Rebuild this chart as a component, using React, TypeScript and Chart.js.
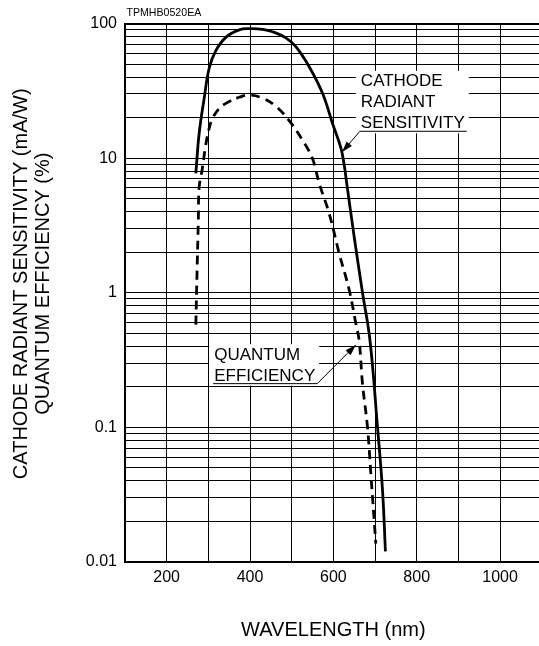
import React, { useEffect, useRef } from 'react';
import { Chart, registerables } from 'chart.js';

Chart.register(...registerables);

// ---- data ----
const sensitivityWavelength = [270, 278, 290, 302, 318, 342, 374, 398, 430, 454, 486, 510, 542, 574, 598, 618, 626, 631, 650, 670, 688, 706, 718, 725];
const cathodeRadiantSensitivity = [7.7, 15.3, 27.8, 46.5, 62.8, 78.9, 89.6, 91.5, 90.5, 86.9, 78.3, 67.2, 47.7, 30.3, 18.1, 11.9, 8.9, 6.9, 2.6, 1.0, 0.44, 0.1, 0.034, 0.012];

const qeWavelength = [270, 273, 276, 278, 285, 293, 301, 310, 326, 342, 374, 398, 430, 462, 494, 526, 550, 566, 590, 614, 638, 654, 662, 670, 682, 690, 702];
const quantumEfficiency = [0.58, 1.47, 3.47, 6.1, 8.15, 12.1, 16.2, 19.7, 23.4, 25.5, 28.3, 29.4, 27.9, 24.3, 19.0, 13.6, 9.9, 6.5, 3.88, 1.96, 1.05, 0.59, 0.44, 0.21, 0.1, 0.045, 0.0137];

const xTickLabels = [200, 400, 600, 800, 1000];
const yDecades = [0.01, 0.1, 1, 10];
const yMultipliers = [1, 2, 3, 4, 5, 6, 7, 8, 9];
const yTickLabels = ['0.01', '0.1', '1', '10', '100'];

const figureCode = 'TPMHB0520EA';
const xTitle = 'WAVELENGTH (nm)';
const yTitle = ['CATHODE RADIANT SENSITIVITY (mA/W)', 'QUANTUM EFFICIENCY (%)'];

const callouts = [
  { lines: ['CATHODE', 'RADIANT', 'SENSITIVITY'], at: [666, 36.9], tip: [621, 11.1], leaderFrom: 'left' },
  { lines: ['QUANTUM', 'EFFICIENCY'], at: [314, 0.344], tip: [654, 0.41], leaderFrom: 'right' },
];

const FONT = '"Liberation Sans", Arial, Helvetica, sans-serif';
const yTickValues = [...yDecades.flatMap((d) => yMultipliers.map((m) => d * m)), 100];

const calloutPlugin = {
  id: 'callouts',
  afterDatasetsDraw(chart: any) {
    const { ctx, chartArea } = chart;
    const xs = chart.scales.x;
    const ys = chart.scales.y;
    const gap = 21;
    ctx.save();
    ctx.font = `17px ${FONT}`;
    ctx.textBaseline = 'middle';
    ctx.textAlign = 'left';
    for (const c of callouts) {
      const tx = xs.getPixelForValue(c.at[0]);
      const ty = ys.getPixelForValue(c.at[1]);
      const widths = c.lines.map((l) => ctx.measureText(l).width);
      const maxW = Math.max(...widths);
      const lastW = widths[widths.length - 1];
      const lastY = ty + gap * (c.lines.length - 1);
      const ulY = lastY + 7.5;
      ctx.fillStyle = '#fff';
      ctx.fillRect(tx - 5, ty - 11, maxW + 9, ulY + 2 - (ty - 11));
      ctx.fillStyle = '#000';
      c.lines.forEach((l, i) => ctx.fillText(l, tx, ty + gap * i));
      const ux0 = tx - 1;
      const ux1 = tx + lastW + 2;
      const px = xs.getPixelForValue(c.tip[0]);
      const py = ys.getPixelForValue(c.tip[1]);
      const sx = c.leaderFrom === 'left' ? ux0 : ux1;
      ctx.strokeStyle = '#000';
      ctx.lineWidth = 1;
      ctx.beginPath();
      ctx.moveTo(ux0, ulY);
      ctx.lineTo(ux1, ulY);
      ctx.moveTo(sx, ulY);
      ctx.lineTo(px, py);
      ctx.stroke();
      const ang = Math.atan2(py - ulY, px - sx);
      const L = 11;
      const W = 3.5;
      ctx.beginPath();
      ctx.moveTo(px, py);
      ctx.lineTo(px - L * Math.cos(ang) + W * Math.sin(ang), py - L * Math.sin(ang) - W * Math.cos(ang));
      ctx.lineTo(px - L * Math.cos(ang) - W * Math.sin(ang), py - L * Math.sin(ang) + W * Math.cos(ang));
      ctx.closePath();
      ctx.fill();
    }
    ctx.font = `10.6px ${FONT}`;
    ctx.textBaseline = 'middle';
    ctx.fillText(figureCode, chartArea.left + 1.5, chartArea.top - 10.8);

    // y-axis title (two rotated lines)
    ctx.font = `20px ${FONT}`;
    ctx.textAlign = 'center';
    ctx.textBaseline = 'middle';
    const cy = (chartArea.top + chartArea.bottom) / 2 - 9;
    yTitle.forEach((t, i) => {
      ctx.save();
      ctx.translate(ys.left + 21 + i * 22.5, cy);
      ctx.rotate(-Math.PI / 2);
      ctx.fillText(t, 0, 0);
      ctx.restore();
    });
    ctx.restore();
  },
};

export default function App() {
  const ref = useRef<HTMLCanvasElement | null>(null);
  useEffect(() => {
    if (!ref.current) return;
    const chart = new Chart(ref.current, {
      type: 'line',
      data: {
        datasets: [
          {
            label: 'Cathode radiant sensitivity',
            data: sensitivityWavelength.map((w, i) => ({ x: w, y: cathodeRadiantSensitivity[i] })),
            borderColor: '#000',
            borderWidth: 2.8,
            pointRadius: 0,
            fill: false,
            tension: 0.4,
          },
          {
            label: 'Quantum efficiency',
            data: qeWavelength.map((w, i) => ({ x: w, y: quantumEfficiency[i] })),
            borderColor: '#000',
            borderWidth: 2.8,
            borderDash: [9, 6],
            pointRadius: 0,
            fill: false,
            tension: 0.4,
          },
        ],
      },
      options: {
        responsive: false,
        animation: false,
        devicePixelRatio: 1,
        events: [],
        layout: { padding: { left: 0, top: 23.5, right: 18.3, bottom: 0 } },
        plugins: { legend: { display: false }, tooltip: { enabled: false } },
        scales: {
          x: {
            type: 'linear',
            min: 100,
            max: 1100,
            afterFit: (s: any) => {
              s.height = 84;
            },
            border: { display: true, color: '#000', width: 2 },
            grid: { color: '#000', lineWidth: 1, drawTicks: false },
            ticks: {
              stepSize: 100,
              autoSkip: false,
              maxRotation: 0,
              padding: 6,
              color: '#000',
              font: { family: FONT, size: 16 },
              callback: (v: any) => (xTickLabels.includes(Number(v)) ? String(v) : ''),
            },
            title: {
              display: true,
              text: xTitle,
              color: '#000',
              font: { family: FONT, size: 20, lineHeight: 1.2 },
              padding: { top: 0, bottom: 4 },
            },
          },
          y: {
            type: 'logarithmic',
            min: 0.01,
            max: 100,
            afterFit: (s: any) => {
              s.width = 125;
            },
            afterBuildTicks: (s: any) => {
              s.ticks = yTickValues.map((v) => ({ value: v }));
            },
            border: { display: true, color: '#000', width: 2 },
            grid: {
              color: '#000',
              lineWidth: (c: any) => (c.tick && c.tick.value === 100 ? 2 : 1),
              drawTicks: false,
            },
            ticks: {
              autoSkip: false,
              padding: 8,
              color: '#000',
              font: { family: FONT, size: 16 },
              callback: (_v: any, i: number) => (i % 9 === 0 ? yTickLabels[i / 9] : ''),
            },
            title: { display: false },
          },
        },
      },
      plugins: [calloutPlugin],
    } as any);
    return () => chart.destroy();
  }, []);
  return (
    <div style={{ position: 'fixed', left: 0, top: 0, width: 539, height: 646, overflow: 'hidden', background: '#fff' }}>
      <canvas ref={ref} width={560} height={646} style={{ display: 'block' }} />
    </div>
  );
}
